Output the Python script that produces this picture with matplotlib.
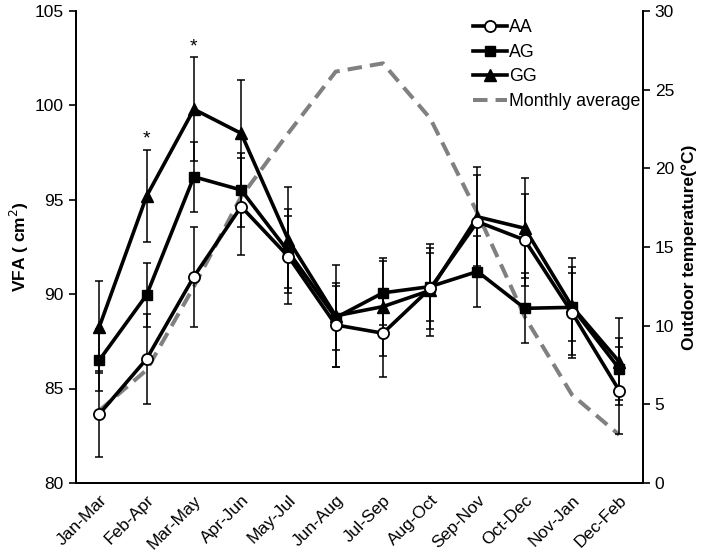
import matplotlib
matplotlib.use("Agg")
import matplotlib.pyplot as plt
import numpy as np
from matplotlib.lines import Line2D

plt.rcParams['font.family'] = ['Liberation Sans', 'DejaVu Sans']

categories = ["Jan-Mar", "Feb-Apr", "Mar-May", "Apr-Jun", "May-Jul", "Jun-Aug",
              "Jul-Sep", "Aug-Oct", "Sep-Nov", "Oct-Dec", "Nov-Jan", "Dec-Feb"]

aa = [83.65, 86.57, 90.93, 94.64, 91.99, 88.37, 87.93, 90.3, 93.84, 92.87, 89.02, 84.89]
ag = [86.51, 89.96, 96.22, 95.52, 92.25, 88.75, 90.07, 90.4, 91.2, 89.25, 89.3, 86.05]
gg = [88.28, 95.2, 99.8, 98.52, 92.87, 88.85, 89.34, 90.2, 94.1, 93.49, 89.35, 86.42]

aa_err = [2.26, 2.4, 2.65, 2.56, 2.5, 2.22, 2.3, 2.16, 2.5, 2.44, 2.4, 2.3]
ag_err = [1.62, 1.68, 1.86, 1.94, 1.9, 1.7, 1.7, 1.8, 1.89, 1.86, 1.8, 1.65]
gg_err = [2.44, 2.45, 2.75, 2.83, 2.82, 2.72, 2.6, 2.44, 2.62, 2.65, 2.55, 2.3]

temp = [4.6, 7.18, 12.48, 18.2, 22.25, 26.15, 26.68, 23.18, 17.16, 10.57, 5.6, 3.05]

sig_idx = [1, 2]

fig = plt.figure(figsize=(7.08, 5.55), dpi=100)
ax = fig.add_axes([0.107, 0.130, 0.801, 0.850])
ax2 = ax.twinx()

x = np.arange(len(categories))
dash = (0, (3.6, 2.0))

ax2.plot(x, temp, color='#808080', lw=2.9, ls=dash, zorder=1)

ax.set_zorder(ax2.get_zorder() + 1)
ax.patch.set_visible(False)

ekw = dict(ecolor='black', elinewidth=1.1, capsize=3, capthick=1.1, zorder=2)
ax.errorbar(x, aa, yerr=aa_err, fmt='none', **ekw)
ax.errorbar(x, ag, yerr=ag_err, fmt='none', **ekw)
ax.errorbar(x, gg, yerr=gg_err, fmt='none', **ekw)

l_gg, = ax.plot(x, gg, color='black', lw=2.6, marker='^', ms=8, mfc='black', mec='black', zorder=4)
l_ag, = ax.plot(x, ag, color='black', lw=2.6, marker='s', ms=6.5, mfc='black', mec='black', zorder=4)
l_aa, = ax.plot(x, aa, color='black', lw=2.6, marker='o', ms=8, mfc='white', mec='black', mew=1.3, zorder=5)

for i in sig_idx:
    ax.text(x[i], gg[i] + gg_err[i] + 0.1, '*', ha='center', va='bottom', fontsize=14)

ax.set_xlim(-0.5, len(categories) - 0.5)
ax.set_ylim(80, 105)
ax.set_yticks([80, 85, 90, 95, 100, 105])
ax2.set_ylim(0, 30)
ax2.set_yticks([0, 5, 10, 15, 20, 25, 30])

ax.set_xticks(x)
ax.set_xticklabels(categories, rotation=45, ha='right', rotation_mode='anchor', fontsize=12.5)
ax.tick_params(axis='x', length=0, pad=7)
ax.tick_params(axis='y', direction='out', length=5, width=1.2, labelsize=12.5)
ax2.tick_params(axis='y', direction='out', length=5, width=1.2, labelsize=12.5)

for a in (ax, ax2):
    a.spines['top'].set_visible(False)
    for s in ('left', 'right', 'bottom'):
        a.spines[s].set_linewidth(1.3)

ax.set_ylabel('VFA ( cm$^2$)', fontsize=12.5, fontweight='bold', labelpad=3)
ax2.set_ylabel('Outdoor temperature(°C)', fontsize=12.5, fontweight='bold', labelpad=5)

handles = [l_aa, l_ag, l_gg, Line2D([], [], color='#808080', lw=2.9, ls=dash)]
ax.legend(handles, ['AA', 'AG', 'GG', 'Monthly average'], loc='upper right',
          bbox_to_anchor=(1.0, 0.988), frameon=False, fontsize=12.8,
          handlelength=1.9, handletextpad=0.1, labelspacing=0.42,
          borderaxespad=0.0, borderpad=0.15)

fig.savefig('out.png', dpi=100)
